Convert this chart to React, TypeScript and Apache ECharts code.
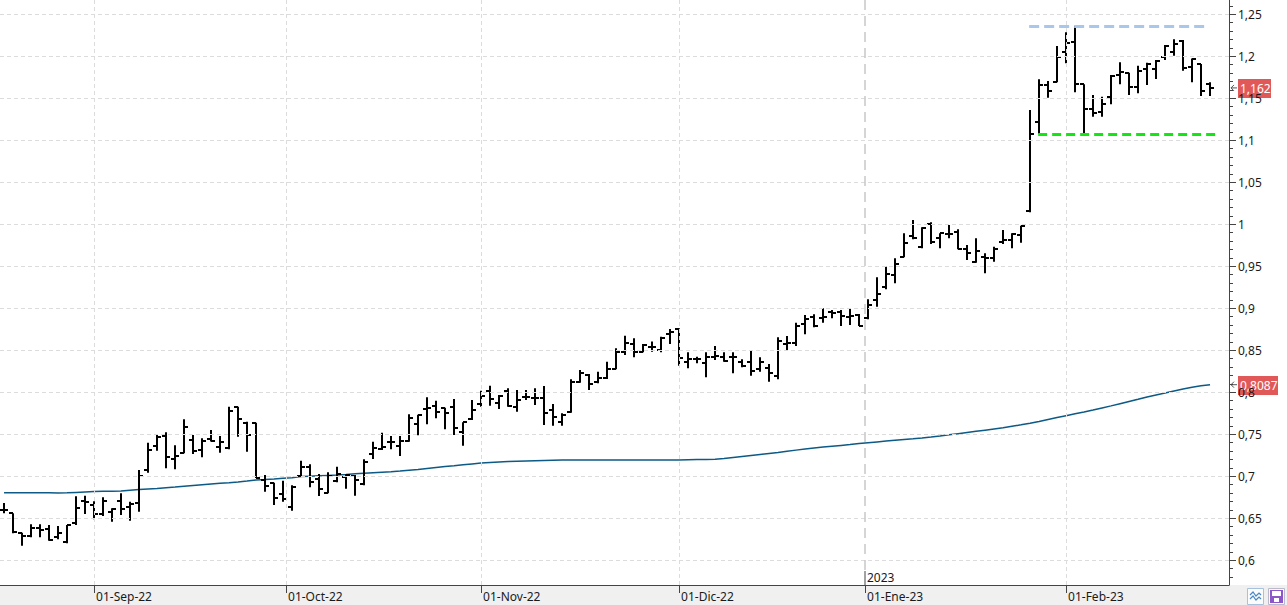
import React, { useEffect, useRef } from 'react';
import * as echarts from 'echarts';

// ---- data ----
const opens = [
  0.660, 0.6556, 0.632, 0.628, 0.6377, 0.637, 0.6278, 0.621, 0.6437, 0.6706,
  0.6655, 0.6544, 0.6575, 0.6706, 0.6635, 0.6675, 0.7071, 0.7353, 0.7472, 0.720,
  0.7278, 0.7429, 0.731, 0.7437, 0.7349, 0.733, 0.7818, 0.7627, 0.7627, 0.6952,
  0.6913, 0.6782, 0.6635, 0.700, 0.7103, 0.6964, 0.6802, 0.694, 0.6992, 0.7004,
  0.6901, 0.7262, 0.7321, 0.7405, 0.736, 0.7417, 0.7621, 0.7798, 0.7833, 0.7806,
  0.7818, 0.7528, 0.7679, 0.7857, 0.8016, 0.7865, 0.8016, 0.7818, 0.7944, 0.7933,
  0.7925, 0.7786, 0.7639, 0.7758, 0.8119, 0.8202, 0.8123, 0.8163, 0.8274, 0.848,
  0.8571, 0.8473, 0.8532, 0.85, 0.8687, 0.875, 0.8361, 0.8389, 0.8341, 0.8421,
  0.8413, 0.8413, 0.8353, 0.8353, 0.827, 0.8282, 0.8194, 0.8568, 0.858, 0.881,
  0.8897, 0.8877, 0.8949, 0.8949, 0.8897, 0.8917, 0.8877, 0.9095, 0.9246, 0.9393,
  0.9603, 0.9857, 0.9722, 1.0, 0.983, 0.9877, 0.9908, 0.9699, 0.9552, 0.9603,
  0.9591, 0.9782, 0.981, 0.9869, 1.0158, 1.121, 1.1655, 1.1687, 1.2051, 1.2163,
  1.1663, 1.1365, 1.1337, 1.1508, 1.1774, 1.1802, 1.1627, 1.1845, 1.1845, 1.1985,
  1.2051, 1.2176, 1.1865, 1.1905, 1.1667,
];
const highs = [
  0.668, 0.6556, 0.6325, 0.6425, 0.6425, 0.6417, 0.6405, 0.6417, 0.676, 0.6766,
  0.670, 0.6746, 0.6615, 0.6794, 0.6694, 0.7071, 0.7397, 0.7498, 0.7522, 0.7367,
  0.7675, 0.7488, 0.7448, 0.7548, 0.7476, 0.7825, 0.7825, 0.7647, 0.7635, 0.7012,
  0.692, 0.6944, 0.6889, 0.7182, 0.7139, 0.7024, 0.7044, 0.7111, 0.702, 0.7012,
  0.7199, 0.7409, 0.7516, 0.7476, 0.7476, 0.7734, 0.773, 0.7937, 0.7897, 0.7813,
  0.7917, 0.7639, 0.7905, 0.8016, 0.8075, 0.7964, 0.8044, 0.8024, 0.8024, 0.8044,
  0.8071, 0.7857, 0.7746, 0.8151, 0.8262, 0.8214, 0.8242, 0.8361, 0.852, 0.867,
  0.8639, 0.8571, 0.86, 0.8659, 0.875, 0.8758, 0.8473, 0.8421, 0.8473, 0.8548,
  0.8473, 0.8473, 0.8389, 0.8488, 0.8413, 0.8333, 0.8651, 0.8667, 0.8825, 0.8917,
  0.8925, 0.8996, 0.8976, 0.8976, 0.8988, 0.8929, 0.9103, 0.9365, 0.9492, 0.9591,
  0.9889, 1.0048, 0.9961, 1.002, 0.9889, 0.9988, 0.9937, 0.975, 0.983, 0.9651,
  0.973, 0.9929, 0.9889, 0.998, 1.1357, 1.1722, 1.1702, 1.2119, 1.2282, 1.2357,
  1.1663, 1.1536, 1.1516, 1.1774, 1.1925, 1.1802, 1.1885, 1.1921, 1.1952, 1.2131,
  1.2198, 1.219, 1.197, 1.1905, 1.1687,
];
const lows = [
  0.6556, 0.6318, 0.617, 0.627, 0.627, 0.623, 0.6246, 0.620, 0.6417, 0.6548,
  0.6484, 0.6524, 0.6456, 0.6536, 0.6468, 0.6575, 0.704, 0.730, 0.7092, 0.708,
  0.727, 0.7262, 0.7222, 0.741, 0.7278, 0.7318, 0.7468, 0.729, 0.6975, 0.6813,
  0.6655, 0.6694, 0.6587, 0.6992, 0.6865, 0.6762, 0.6794, 0.6925, 0.6849, 0.6766,
  0.6889, 0.7202, 0.731, 0.7318, 0.7238, 0.7409, 0.7484, 0.7615, 0.7687, 0.7556,
  0.7488, 0.7361, 0.7667, 0.7825, 0.7837, 0.7798, 0.7825, 0.7766, 0.7905, 0.7845,
  0.7607, 0.7599, 0.7599, 0.7754, 0.8111, 0.8024, 0.8103, 0.8155, 0.827, 0.844,
  0.8413, 0.8473, 0.848, 0.8473, 0.8571, 0.8313, 0.8282, 0.8341, 0.8175, 0.8381,
  0.8361, 0.8222, 0.8294, 0.8194, 0.8242, 0.8123, 0.8151, 0.85, 0.8548, 0.8687,
  0.877, 0.8825, 0.8877, 0.8786, 0.8798, 0.8786, 0.8865, 0.9016, 0.9222, 0.9294,
  0.9603, 0.9818, 0.971, 0.9762, 0.971, 0.983, 0.9699, 0.9571, 0.954, 0.9413,
  0.9552, 0.9762, 0.971, 0.9778, 1.0139, 1.107, 1.1504, 1.1687, 1.1913, 1.1568,
  1.107, 1.1278, 1.1278, 1.1425, 1.1663, 1.1536, 1.1556, 1.1655, 1.1726, 1.1952,
  1.2004, 1.1825, 1.1687, 1.1524, 1.1524,
];
const closes = [
  0.659, 0.633, 0.629, 0.6385, 0.6357, 0.6234, 0.6318, 0.6413, 0.6615, 0.669,
  0.6548, 0.670, 0.6603, 0.6607, 0.6663, 0.700, 0.731, 0.7464, 0.7226, 0.7234,
  0.7583, 0.730, 0.742, 0.742, 0.741, 0.777, 0.7675, 0.7488, 0.698, 0.6885,
  0.6738, 0.6726, 0.6873, 0.7103, 0.6925, 0.6845, 0.700, 0.7024, 0.7012, 0.6952,
  0.7167, 0.733, 0.7341, 0.7401, 0.7417, 0.7687, 0.773, 0.7806, 0.7758, 0.7746,
  0.7568, 0.7639, 0.7786, 0.7952, 0.7913, 0.7956, 0.7833, 0.7905, 0.7944, 0.7925,
  0.7746, 0.7698, 0.7726, 0.8123, 0.823, 0.8092, 0.8163, 0.8274, 0.8473, 0.858,
  0.8473, 0.856, 0.854, 0.8639, 0.8718, 0.8401, 0.8389, 0.8389, 0.8413, 0.8429,
  0.8373, 0.8413, 0.8313, 0.8254, 0.8353, 0.823, 0.8611, 0.858, 0.8789, 0.8869,
  0.8789, 0.8897, 0.8937, 0.8905, 0.8905, 0.8786, 0.9036, 0.9163, 0.9401, 0.9524,
  0.9778, 0.983, 0.9949, 0.9782, 0.9889, 0.9877, 0.9699, 0.9659, 0.9679, 0.96,
  0.9702, 0.981, 0.9877, 0.9976, 1.1068, 1.1655, 1.1583, 1.1985, 1.215, 1.1663,
  1.1365, 1.1317, 1.1425, 1.1762, 1.1806, 1.1627, 1.1825, 1.1905, 1.1944, 1.2119,
  1.2143, 1.1853, 1.197, 1.1587, 1.162,
];
const movingAvg = [
  0.680, 0.680, 0.680, 0.680, 0.680, 0.680, 0.6798, 0.680, 0.6805, 0.681,
  0.6815, 0.6817, 0.6819, 0.682, 0.683, 0.684, 0.6846, 0.6852, 0.686, 0.6868,
  0.6877, 0.6886, 0.6895, 0.6904, 0.6913, 0.6921, 0.693, 0.694, 0.6952, 0.6958,
  0.6965, 0.6973, 0.698, 0.6993, 0.6998, 0.7003, 0.7007, 0.7011, 0.7018, 0.7026,
  0.7034, 0.704, 0.7046, 0.7052, 0.706, 0.7069, 0.7078, 0.709, 0.7101, 0.7112,
  0.7122, 0.7133, 0.7144, 0.7155, 0.7161, 0.7167, 0.7172, 0.7177, 0.718, 0.7183,
  0.7186, 0.7188, 0.719, 0.719, 0.719, 0.719, 0.719, 0.719, 0.719, 0.719,
  0.719, 0.719, 0.719, 0.719, 0.719, 0.719, 0.7193, 0.7195, 0.7197, 0.720,
  0.7207, 0.722, 0.7232, 0.7244, 0.7256, 0.7268, 0.728, 0.7296, 0.7308, 0.732,
  0.7332, 0.7344, 0.7354, 0.7364, 0.7374, 0.7386, 0.7396, 0.7406, 0.7416, 0.7425,
  0.7434, 0.7443, 0.7453, 0.7464, 0.7476, 0.749, 0.7504, 0.7518, 0.7532, 0.7546,
  0.756, 0.7574, 0.7592, 0.7609, 0.7628, 0.765, 0.7673, 0.7696, 0.7718, 0.774,
  0.7762, 0.7785, 0.781, 0.7835, 0.7861, 0.7887, 0.7913, 0.794, 0.7965, 0.7989,
  0.8013, 0.8035, 0.8057, 0.8075, 0.8087,
];
const yTickValues = [0.6, 0.65, 0.7, 0.75, 0.8, 0.85, 0.9, 0.95, 1, 1.05, 1.1, 1.15, 1.2, 1.25];
const monthTickPos = [10, 31.33, 53, 75, 95.67, 118];
const monthTickLabels = ['01-Sep-22', '01-Oct-22', '01-Nov-22', '01-Dic-22', '01-Ene-23', '01-Feb-23'];
const yearLabel = '2023';
const lastPrice = 1.162;
const lastMA = 0.8087;
const resistanceLevel = 1.2357;
const resistanceRange = [113.9, 133.6];
const supportLevel = 1.1071;
const supportRange = [114.9, 134.6];

const fmt = (v: number) => String(Math.round(v * 10000) / 10000).replace('.', ',');

export default function App() {
  const ref = useRef<HTMLDivElement>(null);
  useEffect(() => {
    document.body.style.margin = '0';
    const chart = echarts.init(ref.current!, null, { renderer: 'svg' });
    const W = 1287, H = 605;
    const gridRight = 58, gridBottom = 20;
    const pxPerUnit = 840;
    const plotH = H - gridBottom;
    const yMin = 0.6 - (plotH - 560) / pxPerUnit;
    const yMax = 0.6 + 560 / pxPerUnit;
    const xMin = -0.45;
    const xMax = xMin + (W - gridRight) / 9;
    const minorTicks: number[] = [];
    for (let k = 58; k <= 126; k++) if (k % 5 !== 0) minorTicks.push(k / 100);
    const ohlc = opens.map((o, i) => [i, o, highs[i], lows[i], closes[i]]);
    const maData = movingAvg.map((v, i) => [i, v]);
    const eneIdx = monthTickPos[4];
    const gridLine = { color: '#dcdcdc', width: 1, type: [4, 3] };

    chart.setOption({
      animation: false,
      textStyle: { fontFamily: 'Noto Sans', fontSize: 12, color: '#222' },
      grid: { left: 0, right: gridRight, top: 0, bottom: gridBottom, show: false },
      xAxis: {
        type: 'value', min: xMin, max: xMax,
        axisLine: { show: true, onZero: false, lineStyle: { color: '#444', width: 1 } },
        axisTick: { show: true, customValues: monthTickPos, length: 8, lineStyle: { color: '#444' } },
        axisLabel: {
          customValues: monthTickPos, align: 'left', margin: 5, padding: [0, 0, 0, 2],
          color: '#1a1a1a', fontSize: 12,
          formatter: (v: number) => {
            const k = monthTickPos.findIndex((p) => Math.abs(p - v) < 0.01);
            return k >= 0 ? monthTickLabels[k] : '';
          },
        },
        splitLine: { show: false },
      },
      yAxis: {
        type: 'value', position: 'right', min: yMin, max: yMax,
        axisLine: { show: true, onZero: false, lineStyle: { color: '#444' } },
        axisTick: { show: true, customValues: yTickValues, length: 7, lineStyle: { color: '#444' } },
        axisLabel: { customValues: yTickValues, margin: 9, color: '#1a1a1a', fontSize: 12, formatter: (v: number) => fmt(v) },
        splitLine: { show: false },
      },
      series: [
        {
          name: 'grid', type: 'line', data: [], z: 1, silent: true,
          markLine: {
            silent: true, symbol: ['none', 'none'], label: { show: false }, animation: false,
            lineStyle: gridLine,
            data: [
              ...yTickValues.map((v) => ({ yAxis: v, lineStyle: gridLine })),
              ...monthTickPos.filter((p) => p !== eneIdx).map((p) => ({ xAxis: p, lineStyle: gridLine })),
              [
                { coord: [eneIdx, yMax], lineStyle: { color: '#c8c8c8', width: 1.5, type: [10, 6] } },
                { coord: [eneIdx, 0.6 - 10 / pxPerUnit] },
              ],
            ],
          },
        },
        {
          name: 'MA', type: 'line', data: maData, z: 2, symbol: 'none', silent: true,
          lineStyle: { color: '#0c5a85', width: 1.5 },
        },
        {
          name: 'OHLC', type: 'custom', data: ohlc, z: 3, silent: true,
          encode: { x: 0, y: [1, 2, 3, 4] },
          renderItem: (params: any, api: any) => {
            const i = api.value(0);
            const pO = api.coord([i, api.value(1)]);
            const pH = api.coord([i, api.value(2)]);
            const pL = api.coord([i, api.value(3)]);
            const pC = api.coord([i, api.value(4)]);
            const x = Math.round(pH[0]);
            const st = { stroke: '#000', lineWidth: 2 };
            const yo = Math.round(pO[1]), yc = Math.round(pC[1]);
            return {
              type: 'group',
              children: [
                { type: 'line', shape: { x1: x, y1: pH[1], x2: x, y2: pL[1] }, style: st },
                { type: 'line', shape: { x1: x - 4, y1: yo, x2: x, y2: yo }, style: st },
                { type: 'line', shape: { x1: x, y1: yc, x2: x + 4, y2: yc }, style: st },
              ],
            };
          },
          markLine: {
            silent: true, symbol: ['none', 'none'], label: { show: false }, animation: false,
            data: [
              [
                { coord: [resistanceRange[0], resistanceLevel], lineStyle: { color: '#a9c7ea', width: 3, type: [10, 5] } },
                { coord: [resistanceRange[1], resistanceLevel] },
              ],
              [
                { coord: [supportRange[0], supportLevel], lineStyle: { color: '#14e614', width: 3, type: [9, 5] } },
                { coord: [supportRange[1], supportLevel] },
              ],
            ],
          },
        },
      ],
    });

    const axisX = W - gridRight;
    const yP = chart.convertToPixel({ yAxisIndex: 0 }, lastPrice) as number;
    const yM = chart.convertToPixel({ yAxisIndex: 0 }, lastMA) as number;
    const xEne = chart.convertToPixel({ xAxisIndex: 0 }, eneIdx) as number;
    const minorTickLines = minorTicks.map((v) => {
      const y = Math.round(chart.convertToPixel({ yAxisIndex: 0 }, v) as number) + 0.5;
      return { type: 'line', z: 5, shape: { x1: axisX, y1: y, x2: axisX + 4, y2: y }, style: { stroke: '#444', lineWidth: 1 } };
    });
    const priceTag = (y: number, text: string, w: number) => ({
      type: 'group', z: 10,
      children: [
        { type: 'polyline', shape: { points: [[axisX + 5, y - 3], [axisX + 2, y], [axisX + 5, y + 3]] }, style: { stroke: '#555', lineWidth: 1, fill: 'none' } },
        { type: 'line', shape: { x1: axisX + 2, y1: y, x2: axisX + 8, y2: y }, style: { stroke: '#555', lineWidth: 1 } },
        { type: 'rect', shape: { x: axisX + 9, y: Math.round(y) - 9, width: w, height: 19 }, style: { fill: '#e05858' } },
        { type: 'text', x: axisX + 11, y: Math.round(y) + 0.5, style: { text, fill: '#fff', font: '12px "Noto Sans"', verticalAlign: 'middle' } },
      ],
    });
    chart.setOption({
      graphic: [
        { type: 'rect', z: -10, shape: { x: 0, y: H - gridBottom, width: W, height: gridBottom }, style: { fill: '#f0f0f0' } },
        ...minorTickLines,
        priceTag(yP, fmt(lastPrice), 33),
        priceTag(yM, fmt(lastMA), 40),
        { type: 'line', z: 5, shape: { x1: Math.round(xEne), y1: 571, x2: Math.round(xEne), y2: H - gridBottom }, style: { stroke: '#444', lineWidth: 1 } },
        { type: 'text', z: 5, x: Math.round(xEne) + 2, y: 577, style: { text: yearLabel, fill: '#1a1a1a', font: '12px "Noto Sans"', verticalAlign: 'middle' } },
        {
          type: 'group', z: 10,
          children: [
            { type: 'rect', shape: { x: 1247.5, y: 588.5, width: 16, height: 16 }, style: { fill: '#fbfbfb', stroke: '#a6c2de', lineWidth: 1 } },
            { type: 'polyline', shape: { points: [[1250, 595], [1253, 592], [1256, 596], [1259, 593], [1261, 595]] }, style: { stroke: '#4a86c8', lineWidth: 1.2, fill: 'none' } },
            { type: 'polyline', shape: { points: [[1250, 599], [1253, 596], [1256, 600], [1259, 597], [1261, 599]] }, style: { stroke: '#4a86c8', lineWidth: 1.2, fill: 'none' } },
            { type: 'rect', shape: { x: 1268.5, y: 588.5, width: 16, height: 16 }, style: { fill: '#fbfbfb', stroke: '#b9b9cc', lineWidth: 1 } },
            { type: 'rect', shape: { x: 1270, y: 590, width: 13, height: 13 }, style: { fill: '#8e57c9' } },
            { type: 'rect', shape: { x: 1272, y: 591, width: 9, height: 5 }, style: { fill: '#ffffff' } },
            { type: 'rect', shape: { x: 1274, y: 598, width: 5, height: 4 }, style: { fill: '#ffffff' } },
          ],
        },
      ],
    });
    return () => chart.dispose();
  }, []);
  return <div ref={ref} style={{ position: 'absolute', left: 0, top: 0, width: 1287, height: 605, background: '#fff' }} />;
}
